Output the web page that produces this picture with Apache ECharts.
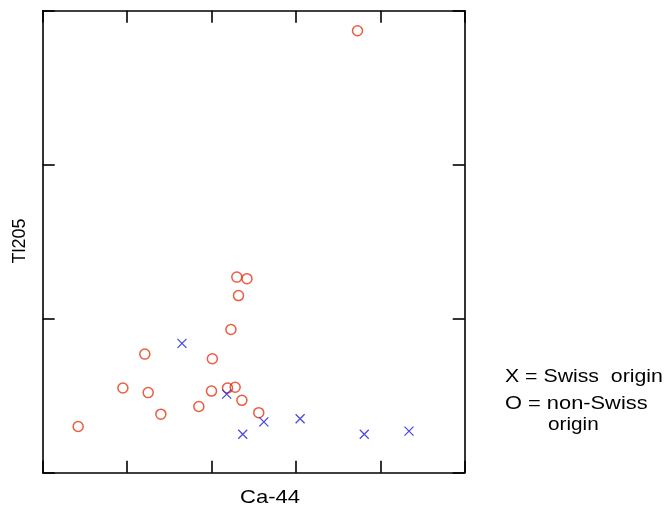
<!DOCTYPE html>
<html>
<head>
<meta charset="utf-8">
<script src="https://cdn.jsdelivr.net/npm/echarts@6/dist/echarts.min.js"></script>
<style>html,body{margin:0;padding:0;background:#fff}#c{width:665px;height:505px}</style>
</head>
<body>
<div id="c"></div>
<script>
// Non-Swiss origin (O markers): [Ca-44, Tl205]
var nonSwissX = [2.30, 2.42, 2.32, 2.23, 1.21, 2.01, 0.95, 1.25, 2.00, 2.19, 2.28, 2.36, 1.85, 1.40, 2.56, 0.42, 3.73];
var nonSwissY = [1.27, 1.26, 1.15, 0.93, 0.77, 0.74, 0.55, 0.52, 0.53, 0.55, 0.555, 0.47, 0.43, 0.38, 0.39, 0.30, 2.87];
// Swiss origin (X markers)
var swissX = [1.65, 2.18, 2.62, 2.37, 3.05, 3.81, 4.34];
var swissY = [0.84, 0.51, 0.33, 0.25, 0.35, 0.25, 0.27];
var xTitle = 'Ca-44';
var yTitle = 'Tl205';
var legendLines = ['X = Swiss  origin', 'O = non-Swiss', 'origin'];

function pairs(xs, ys){ return xs.map(function(x,i){ return [x, ys[i]]; }); }

var chart = echarts.init(document.getElementById('c'), null, {renderer:'canvas'});
var axLine = {show:true, onZero:false, lineStyle:{color:'#000', width:1.6}};
var axTick = {show:true, inside:true, length:12, lineStyle:{color:'#000', width:1.6}};
var font = 'Liberation Sans, Arial, sans-serif';
function ax(pos, max){
  return {type:'value', position:pos, min:0, max:max, interval:1, axisLine:axLine, axisTick:axTick,
          axisLabel:{show:false}, splitLine:{show:false}};
}
chart.setOption({
  animation:false,
  backgroundColor:'#fff',
  grid:{left:42.7, top:10.7, width:422, height:462},
  xAxis:[ax('bottom',5), ax('top',5)],
  yAxis:[ax('left',3), ax('right',3)],
  series:[
    {type:'scatter', xAxisIndex:0, yAxisIndex:0, data:pairs(nonSwissX, nonSwissY), symbol:'circle', symbolSize:10,
     itemStyle:{color:'rgba(0,0,0,0)', borderColor:'#e63312', borderWidth:1.5}},
    {type:'scatter', xAxisIndex:0, yAxisIndex:0, data:pairs(swissX, swissY), symbol:'path://M0,0L10,10M10,0L0,10', symbolSize:9,
     itemStyle:{color:'rgba(0,0,0,0)', borderColor:'#1c1ce0', borderWidth:1.3}},
    {type:'scatter', xAxisIndex:1, yAxisIndex:1, data:[], silent:true}
  ],
  graphic:[
    {type:'text', x:270, y:498, scaleX:1.16, style:{text:xTitle, align:'center', verticalAlign:'middle', font:'19px '+font, fill:'#000'}},
    {type:'text', x:20, y:241, rotation:Math.PI/2, style:{text:yTitle, align:'center', verticalAlign:'middle', font:'18px '+font, fill:'#000'}},
    {type:'text', x:505, y:377, scaleX:1.15, style:{text:legendLines[0], verticalAlign:'middle', font:'18.5px '+font, fill:'#000'}},
    {type:'text', x:505, y:404, scaleX:1.18, style:{text:legendLines[1], verticalAlign:'middle', font:'18.5px '+font, fill:'#000'}},
    {type:'text', x:548, y:425, scaleX:1.12, style:{text:legendLines[2], verticalAlign:'middle', font:'18.5px '+font, fill:'#000'}}
  ]
});
</script>
</body>
</html>
